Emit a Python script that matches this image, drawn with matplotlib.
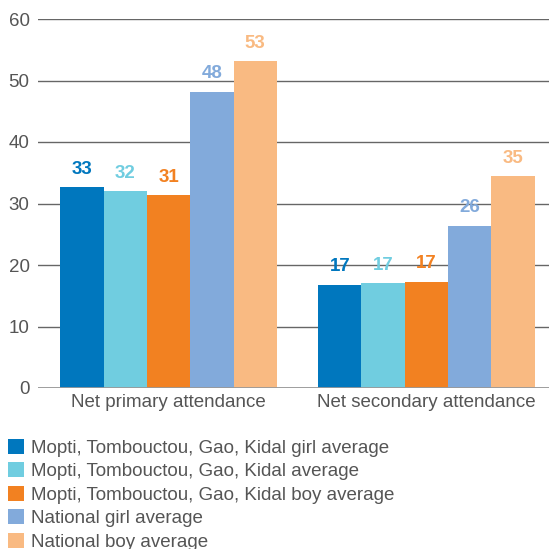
import numpy as np
import matplotlib.pyplot as plt
from matplotlib.patches import Patch

plt.rcParams['font.family'] = ['Liberation Sans', 'DejaVu Sans']

# data
groups = ["Net primary attendance", "Net secondary attendance"]
series = [
    "Mopti, Tombouctou, Gao, Kidal girl average",
    "Mopti, Tombouctou, Gao, Kidal average",
    "Mopti, Tombouctou, Gao, Kidal boy average",
    "National girl average",
    "National boy average",
]
values = [
    [32.7, 16.8],
    [32.0, 17.1],
    [31.4, 17.3],
    [48.2, 26.4],
    [53.2, 34.5],
]
labels = [
    ["33", "17"],
    ["32", "17"],
    ["31", "17"],
    ["48", "26"],
    ["53", "35"],
]
colors = ["#0077be", "#70cde0", "#f28121", "#82aadb", "#f9ba82"]
yticks = [0, 10, 20, 30, 40, 50, 60]

grey = "#555555"

fig = plt.figure(figsize=(5.49, 5.49), dpi=100)
ax = fig.add_axes([38 / 549, 161 / 549, 511 / 549, 369 / 549])

x = np.arange(len(groups))
w = 0.168
for i, (name, vals) in enumerate(zip(series, values)):
    xs = x + (i - 2) * w
    ax.bar(xs, vals, width=w, color=colors[i], label=name, zorder=3)
    for xx, v, lab in zip(xs, vals, labels[i]):
        ax.text(xx, v + 1.5, lab, ha="center", va="bottom", color=colors[i],
                fontsize=13.5, fontweight="bold", zorder=4)

ax.set_ylim(0, 60)
ax.set_xlim(-0.506, 1.475)
ax.set_yticks(yticks)
ax.set_xticks(x)
ax.set_xticklabels(groups)
ax.tick_params(axis="both", length=0, colors=grey, labelsize=13.5)
ax.tick_params(axis="y", pad=6)
ax.tick_params(axis="x", pad=4)
for s in ax.spines.values():
    s.set_visible(False)
ax.yaxis.grid(True, color="#666666", lw=1.0, zorder=1)
ax.axhline(0, color="#999999", lw=2, zorder=5)

handles = [Patch(facecolor=c, edgecolor="none") for c in colors]
leg = fig.legend(handles, series, loc="upper left", bbox_to_anchor=(0.005, 116 / 549),
                 frameon=False, fontsize=13.5, handlelength=0.85, handleheight=0.85,
                 handletextpad=0.35, labelspacing=0.3, borderaxespad=0,
                 borderpad=0.3)
for t in leg.get_texts():
    t.set_color(grey)

fig.savefig("out.png", dpi=100)
